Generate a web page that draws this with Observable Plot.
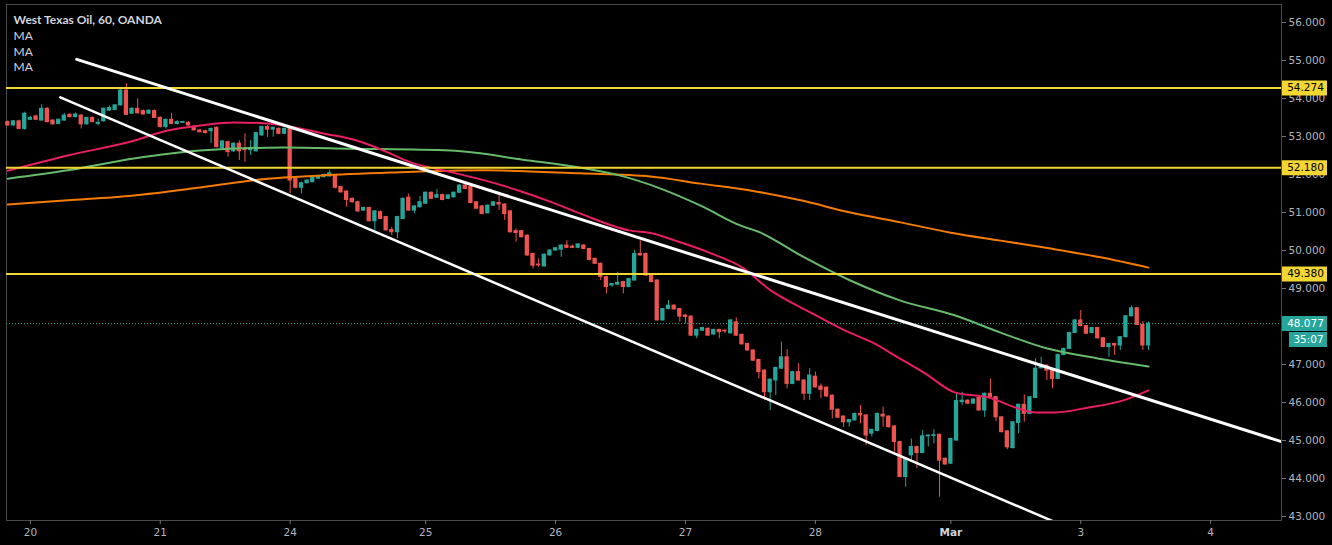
<!DOCTYPE html>
<html><head><meta charset="utf-8">
<script src="https://cdn.jsdelivr.net/npm/d3@7"></script>
<script src="https://cdn.jsdelivr.net/npm/@observablehq/plot@0.6"></script>
<style>html,body{margin:0;padding:0;background:#000;overflow:hidden} #chart svg{display:block}</style>
</head><body><div id="chart"></div>
<script>
const title = "West Texas Oil, 60, OANDA";
const studyLabels = ["MA", "MA", "MA"];
const levels = [54.274, 52.180, 49.380];
const lastPrice = 48.077;
const countdown = "35:07";
const priceTicks = [43, 44, 45, 46, 47, 48, 49, 50, 51, 52, 53, 54, 55, 56];
const dayLabels = ["20", "21", "24", "25", "26", "27", "28", "Mar", "3", "4"];
const dayStartBars = [4, 27, 50, 74, 97, 120, 143, 167, 190, 213];
// hourly candles: [open, high, low, close]
const ohlc = [
[53.38,53.41,53.27,53.29],[53.29,53.42,53.27,53.40],[53.40,53.43,53.18,53.20],[53.20,53.64,53.16,53.60],
[53.44,53.53,53.42,53.49],[53.53,53.56,53.42,53.44],[53.42,53.84,53.40,53.73],[53.73,53.76,53.36,53.38],
[53.42,53.44,53.30,53.32],[53.33,53.46,53.31,53.44],[53.42,53.61,53.40,53.55],[53.57,53.60,53.49,53.51],
[53.51,53.62,53.49,53.58],[53.55,53.58,53.20,53.32],[53.32,53.51,53.30,53.49],[53.49,53.51,53.36,53.38],
[53.33,53.46,53.28,53.36],[53.40,53.75,53.38,53.73],[53.68,53.80,53.66,53.75],[53.70,53.84,53.68,53.82],
[53.82,54.24,53.80,54.21],[54.21,54.39,53.55,53.57],[53.60,53.75,53.58,53.73],[53.73,53.99,53.59,53.61],
[53.67,53.70,53.56,53.58],[53.60,53.70,53.58,53.68],[53.67,53.70,53.47,53.49],[53.49,53.52,53.22,53.25],
[53.25,53.46,53.20,53.44],[53.44,53.61,53.31,53.33],[53.33,53.42,53.30,53.38],[53.36,53.40,53.34,53.38],
[53.36,53.39,53.28,53.29],[53.26,53.28,53.15,53.16],[53.16,53.18,53.10,53.11],[53.14,53.16,53.07,53.09],
[53.14,53.22,52.81,53.20],[53.23,53.25,52.70,52.72],[52.70,52.89,52.68,52.87],[52.85,52.88,52.46,52.59],
[52.61,52.84,52.58,52.81],[52.81,52.89,52.37,52.61],[52.66,53.07,52.32,52.64],[52.64,52.89,52.50,52.66],
[52.61,53.10,52.59,53.09],[53.03,53.27,53.00,53.25],[53.25,53.29,52.98,53.18],[53.18,53.25,52.98,53.23],
[53.20,53.23,53.05,53.07],[53.07,53.22,53.05,53.20],[53.20,53.22,51.49,51.84],[51.89,51.92,51.62,51.65],
[51.65,51.80,51.49,51.77],[51.77,51.86,51.75,51.84],[51.80,51.95,51.78,51.93],[51.89,51.97,51.87,51.95],
[51.93,52.01,51.91,51.99],[51.95,52.10,51.93,52.03],[51.97,52.00,51.62,51.65],[51.67,51.69,51.51,51.53],
[51.55,51.57,51.14,51.33],[51.36,51.38,51.25,51.27],[51.27,51.30,51.00,51.03],[51.05,51.14,51.03,51.12],
[51.12,51.14,50.75,50.77],[50.77,51.05,50.53,51.03],[51.01,51.04,50.81,50.83],[50.88,50.90,50.51,50.53],
[50.54,50.61,50.39,50.48],[50.48,50.90,50.31,50.88],[50.83,51.38,50.81,51.36],[51.39,51.49,51.03,51.05],
[51.05,51.18,50.96,51.16],[51.14,51.42,51.12,51.27],[51.23,51.54,51.21,51.52],[51.52,51.54,51.34,51.36],
[51.39,51.60,51.37,51.46],[51.46,51.48,51.31,51.33],[51.36,51.47,51.34,51.45],[51.40,51.54,51.38,51.52],
[51.52,51.73,51.50,51.71],[51.71,51.82,51.60,51.62],[51.67,51.69,51.23,51.25],[51.27,51.29,51.08,51.10],
[51.16,51.18,50.94,50.96],[50.98,51.20,50.96,51.18],[51.18,51.29,51.16,51.27],[51.25,51.53,51.05,51.21],
[51.21,51.23,50.79,50.96],[51.03,51.05,50.46,50.48],[50.51,50.57,50.22,50.46],[50.51,50.53,50.33,50.35],
[50.39,50.41,49.85,49.87],[49.91,49.93,49.52,49.60],[49.63,49.78,49.56,49.61],[49.58,49.91,49.56,49.89],
[49.87,50.02,49.85,50.00],[50.00,50.08,49.98,50.06],[50.02,50.15,49.82,50.13],[50.13,50.26,50.05,50.07],
[50.10,50.14,50.05,50.07],[50.07,50.18,50.05,50.16],[50.13,50.16,50.02,50.04],[50.04,50.06,49.73,49.75],
[49.78,49.80,49.63,49.65],[49.65,49.67,49.21,49.30],[49.30,49.32,48.86,49.04],[49.08,49.13,49.03,49.12],
[49.10,49.43,49.08,49.15],[49.17,49.19,48.86,49.04],[49.04,49.27,49.02,49.25],[49.21,50.00,49.19,49.91],
[49.91,50.26,49.85,49.87],[49.91,49.93,49.32,49.34],[49.34,49.36,49.15,49.17],[49.21,49.23,48.14,48.16],
[48.16,48.48,48.14,48.46],[48.46,48.68,48.44,48.55],[48.55,48.57,48.43,48.45],[48.46,48.48,48.11,48.26],
[48.29,48.31,48.07,48.25],[48.26,48.28,47.74,47.76],[47.76,47.93,47.68,47.91],[47.89,47.98,47.87,47.96],
[47.94,47.96,47.74,47.76],[47.79,47.93,47.77,47.91],[47.91,47.93,47.68,47.85],[47.89,47.91,47.82,47.87],
[47.82,48.18,47.80,48.16],[48.11,48.23,47.74,47.76],[47.78,47.80,47.51,47.53],[47.54,47.56,47.35,47.37],
[47.37,47.39,47.08,47.10],[47.12,47.14,46.62,46.80],[46.84,46.86,46.05,46.27],[46.27,46.62,45.79,46.60],
[46.58,46.93,46.18,46.91],[46.89,47.59,46.87,47.19],[47.19,47.39,46.36,46.49],[46.49,46.82,46.47,46.80],
[46.80,47.02,46.56,46.58],[46.58,46.60,46.05,46.23],[46.23,46.89,46.05,46.71],[46.68,46.80,46.38,46.40],
[46.42,46.49,46.10,46.33],[46.39,46.41,46.14,46.16],[46.18,46.20,45.57,45.81],[45.81,45.83,45.58,45.60],
[45.63,45.65,45.35,45.48],[45.48,45.56,45.35,45.54],[45.53,45.72,45.51,45.70],[45.70,45.92,45.44,45.66],
[45.66,45.68,44.87,45.13],[45.18,45.30,45.09,45.28],[45.25,45.72,45.23,45.70],[45.68,45.88,45.35,45.63],
[45.63,45.65,45.33,45.35],[45.37,45.39,44.69,44.96],[44.96,44.98,44.02,44.04],[44.04,44.54,43.77,44.52],
[44.61,45.04,44.47,44.83],[44.83,44.85,44.26,44.67],[44.67,45.26,44.65,45.11],[45.11,45.15,44.83,45.13],
[45.12,45.28,44.91,45.14],[45.15,45.17,43.51,44.47],[44.52,44.54,44.35,44.37],[44.39,45.06,44.37,45.04],
[45.00,46.27,44.98,46.04],[46.01,46.27,45.92,46.05],[46.05,46.07,45.95,45.97],[45.97,46.10,45.95,46.08],
[46.12,46.14,45.77,45.79],[45.79,46.25,45.61,46.23],[46.23,46.62,46.12,46.14],[46.14,46.16,45.50,45.61],
[45.61,45.63,45.20,45.22],[45.24,45.26,44.76,44.82],[44.80,45.50,44.78,45.48],[45.46,45.96,45.18,45.94],
[45.94,46.20,45.48,45.70],[45.70,46.16,45.68,46.14],[46.12,47.15,46.10,46.89],[46.90,47.19,46.88,46.97],
[46.97,46.99,46.58,46.84],[46.84,46.86,46.36,46.62],[46.62,47.27,46.60,47.25],[47.25,47.43,47.23,47.41],
[47.41,47.85,47.39,47.83],[47.83,48.18,47.81,48.16],[48.16,48.42,47.99,48.01],[48.01,48.03,47.79,47.81],
[47.83,47.98,47.81,47.96],[47.96,47.98,47.67,47.69],[47.69,47.71,47.44,47.46],[47.46,47.56,47.19,47.54],
[47.54,47.56,47.24,47.50],[47.50,47.74,47.37,47.72],[47.72,48.29,47.70,48.27],[48.27,48.54,48.25,48.48],
[48.48,48.50,48.02,48.04],[48.04,48.13,47.37,47.50],[47.50,48.12,47.37,48.077]
];
// moving averages: [bar, price]
const maFast = [[0,52.10],[10.6,52.50],[22.3,52.89],[28.3,53.16],[34.1,53.29],[40,53.37],[46,53.34],[50.1,53.26],
[55.9,53.08],[61.9,52.89],[67.8,52.55],[70.4,52.37],[78.8,52.05],[84.6,51.84],[90.4,51.58],[96.5,51.26],
[101.4,50.97],[110,50.53],[114.2,50.45],[118.2,50.26],[124.1,49.95],[130.1,49.55],[135.1,48.95],[141.5,48.42],
[148.3,47.89],[153.1,47.58],[157.7,47.18],[162.5,46.76],[167.8,46.26],[173.7,46.13],[179,45.84],[182,45.74],
[185.5,45.74],[191.4,45.87],[197.4,46.05],[202,46.32]];
const maMid = [[0,51.89],[10.6,52.11],[22.3,52.42],[34.1,52.63],[48.8,52.71],[60.7,52.68],[78.4,52.63],
[92.2,52.37],[101.4,52.18],[108.5,51.97],[115.6,51.63],[122.7,51.18],[129.7,50.66],[133.3,50.47],
[140.4,49.87],[149.2,49.21],[158.1,48.68],[167.8,48.29],[175.8,47.84],[184.1,47.42],[193,47.16],[202,46.95]];
const maSlow = [[0,51.21],[10.6,51.32],[22.3,51.45],[34.1,51.66],[46,51.89],[54.8,51.97],[67.8,52.05],
[84.6,52.11],[101.4,52.03],[113.8,51.95],[122.7,51.76],[131.5,51.58],[140.4,51.32],[149.2,51.00],
[158.1,50.74],[167,50.47],[175.8,50.26],[184.7,50.05],[193.5,49.82],[202,49.55]];
const channelUpper = [[12.2, 55.03], [225.55, 44.97]];
const channelLower = [[9.3, 54.03], [185.5, 42.85]];

const UP = "#26a69a", DN = "#ef5350", YEL = "#f2d633", AXIS = "#b2b5be", FONT = "DejaVu Sans";
const candles = ohlc.map(([o, h, l, c], i) => ({i, o, h, l, c, col: c >= o ? UP : DN}));
const box = (w, h) => ({draw(ctx) { ctx.moveTo(-w / 2, -h / 2); ctx.lineTo(w / 2, -h / 2); ctx.lineTo(w / 2, h / 2); ctx.lineTo(-w / 2, h / 2); ctx.closePath(); }});
const dayMap = new Map(dayStartBars.map((b, k) => [b, dayLabels[k]]));
const marIdx = dayLabels.indexOf("Mar");
const lbl = {frameAnchor: "right", textAnchor: "middle", fontSize: 10.5};
// a tick label fully covered by the last-price box is not shown
const tickText = d => Math.abs(d - lastPrice) < 0.2 ? "" : d.toFixed(3);

const chart = Plot.plot({
  width: 1332, height: 545,
  marginLeft: 6, marginRight: 51, marginTop: 4, marginBottom: 25,
  style: {background: "#000", color: AXIS, fontFamily: FONT},
  x: {domain: [-0.23, 225.55], axis: null},
  y: {domain: [42.895, 56.474], axis: null},
  marks: [
    Plot.frame({stroke: "#4a4a4a"}),
    Plot.ruleX(candles, {x: "i", y1: "l", y2: "h", stroke: "col", strokeWidth: 1}),
    Plot.rect(candles, {x1: d => d.i - 0.38, x2: d => d.i + 0.38, y1: d => Math.min(d.o, d.c), y2: d => Math.max(d.o, d.c), fill: "col", insetTop: -0.5, insetBottom: -0.5}),
    Plot.line(maSlow, {x: d => d[0], y: d => d[1], stroke: "#f57c00", strokeWidth: 2, curve: "monotone-x"}),
    Plot.line(maMid, {x: d => d[0], y: d => d[1], stroke: "#66bb6a", strokeWidth: 2, curve: "monotone-x"}),
    Plot.line(maFast, {x: d => d[0], y: d => d[1], stroke: "#e91e63", strokeWidth: 2, curve: "monotone-x"}),
    Plot.ruleY(levels, {y: d => d, stroke: YEL, strokeWidth: 2}),
    Plot.ruleY([lastPrice], {y: d => d, stroke: UP, strokeWidth: 1, strokeDasharray: "1,2"}),
    Plot.line(channelUpper, {x: d => d[0], y: d => d[1], stroke: "#fff", strokeWidth: 3, clip: true}),
    Plot.line(channelLower, {x: d => d[0], y: d => d[1], stroke: "#fff", strokeWidth: 2.5, clip: true}),
    Plot.axisY(priceTicks, {anchor: "right", tickSize: 4, tickPadding: 3, tickFormat: tickText, label: null, stroke: "#777", fill: AXIS, fontSize: 10.5}),
    Plot.axisX(dayStartBars.filter((b, k) => k !== marIdx), {anchor: "bottom", tickSize: 4, tickPadding: 4, tickFormat: d => dayMap.get(d), label: null, stroke: "#777", fill: AXIS, fontSize: 10.5}),
    Plot.axisX([dayStartBars[marIdx]], {anchor: "bottom", tickSize: 4, tickPadding: 4, tickFormat: d => dayMap.get(d), label: null, stroke: "#777", fill: "#d1d4dc", fontSize: 10.5, fontWeight: "bold"}),
    Plot.dot(levels, {y: d => d, frameAnchor: "right", dx: 23, symbol: box(45, 15), fill: YEL, stroke: null}),
    Plot.text(levels, {...lbl, y: d => d, dx: 24, text: d => d.toFixed(3), fill: "#000"}),
    Plot.dot([lastPrice], {y: d => d, frameAnchor: "right", dx: 23, symbol: box(45, 15), fill: UP, stroke: null}),
    Plot.text([lastPrice], {...lbl, y: d => d, dx: 24, text: d => d.toFixed(3), fill: "#fff"}),
    Plot.dot([lastPrice], {y: d => d, frameAnchor: "right", dx: 26.5, dy: 16, symbol: box(38, 15), fill: UP, stroke: null}),
    Plot.text([countdown], {...lbl, y: () => lastPrice, dx: 27, dy: 16, text: d => d, fill: "#fff"}),
    Plot.text([title], {frameAnchor: "top-left", dx: 7, dy: 11, text: d => d, fill: "#d1d4dc", fontSize: 12, fontWeight: "bold", fontFamily: "Lato", textAnchor: "start"}),
    ...studyLabels.map((s, k) => Plot.text([s], {frameAnchor: "top-left", dx: 7, dy: 27 + 15.5 * k, text: d => d, fill: "#d1d4dc", fontSize: 12, fontFamily: "Lato", textAnchor: "start"}))
  ]
});
document.getElementById("chart").append(chart);
</script>
</body></html>
